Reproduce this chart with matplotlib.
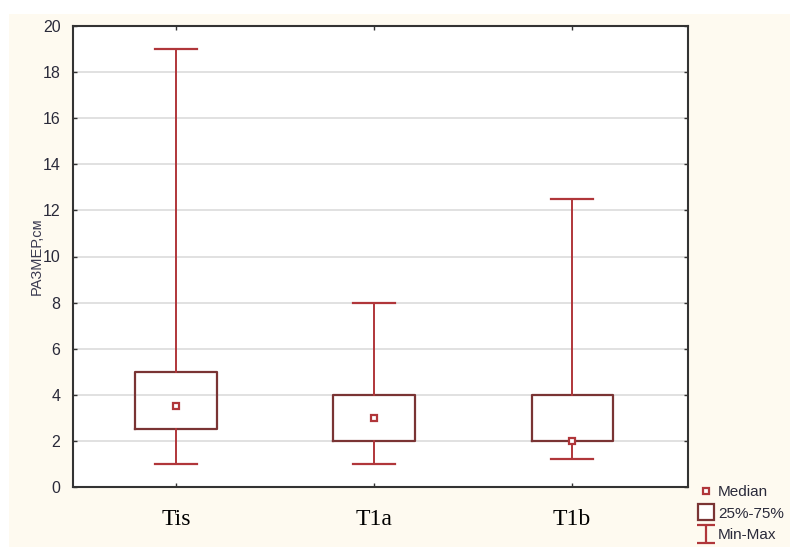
import matplotlib.pyplot as plt
import numpy as np
from matplotlib.path import Path
from matplotlib.patches import Rectangle
from matplotlib.lines import Line2D

# values (size, cm)
groups = ['Tis', 'T1a', 'T1b']
mins = [1.0, 1.0, 1.2]
q1 = [2.5, 2.0, 2.0]
medians = [3.5, 3.0, 2.0]
q3 = [5.0, 4.0, 4.0]
maxs = [19.0, 8.0, 12.5]
y_ticks = [0, 2, 4, 6, 8, 10, 12, 14, 16, 18, 20]

box_col = '#7a3434'
whisk_col = '#b0363a'
cream = '#fefaf0'

fig = plt.figure(figsize=(7.9, 5.47), dpi=100)
fig.patch.set_facecolor('white')
# cream panel behind everything (white strip at top/left as in the reference)
fig.patches.append(Rectangle((9 / 790, 0), 1, 1 - 14 / 547, transform=fig.transFigure,
                             facecolor=cream, edgecolor='none', zorder=-10))

ax = fig.add_axes([73 / 790, 60 / 547, 615 / 790, 461 / 547])
ax.set_facecolor('white')

pos = np.arange(len(groups))
stats = []
for g, lo, a, m, b, hi in zip(groups, mins, q1, medians, q3, maxs):
    stats.append({'label': g, 'whislo': lo, 'q1': a, 'med': m, 'q3': b, 'whishi': hi, 'fliers': []})

ax.bxp(stats, positions=pos, widths=0.41, capwidths=0.21, showfliers=False,
       boxprops=dict(color=box_col, linewidth=1.6),
       whiskerprops=dict(color=whisk_col, linewidth=1.4),
       capprops=dict(color=whisk_col, linewidth=1.6),
       medianprops=dict(linestyle='none'))
ax.plot(pos, medians, linestyle='none', marker='s', markersize=4.5,
        markerfacecolor='white', markeredgecolor=whisk_col, markeredgewidth=1.6, zorder=5)

ax.set_ylim(0, 20)
ax.set_xlim(-0.52, 2.585)
ax.set_yticks(y_ticks)
ax.set_xticks(pos)
ax.set_xticklabels(groups, fontfamily='Liberation Serif', fontsize=17, color='black')
for lab in ax.get_yticklabels():
    lab.set_fontfamily('Liberation Sans')
    lab.set_fontsize(11.5)
    lab.set_color('#2a2a3a')
ax.tick_params(axis='y', direction='in', length=3, width=1, color='#333333', pad=9,
               left=True, right=True)
ax.tick_params(axis='x', direction='in', length=3, width=1, color='#333333', pad=16,
               bottom=True, top=True)
ax.yaxis.grid(True, color='#dcdcdc', linewidth=1.2)
ax.set_axisbelow(True)
for sp in ax.spines.values():
    sp.set_color('#333333')
    sp.set_linewidth(1.5)

ax.set_ylabel('РАЗМЕР,см', fontfamily='Liberation Sans', fontsize=10.5, color='#3a3a50', labelpad=-1)

# legend symbols
imark = Path([(-0.5, 0.5), (0.5, 0.5), (0, 0.5), (0, -0.5), (-0.5, -0.5), (0.5, -0.5)],
             [Path.MOVETO, Path.LINETO, Path.MOVETO, Path.LINETO, Path.MOVETO, Path.LINETO])
handles = [
    Line2D([], [], linestyle='none', marker='s', markersize=4, markerfacecolor='white',
           markeredgecolor=whisk_col, markeredgewidth=1.6),
    Line2D([], [], linestyle='none', marker='s', markersize=11.5, markerfacecolor='white',
           markeredgecolor=box_col, markeredgewidth=1.6),
    Line2D([], [], linestyle='none', marker=imark, markersize=13, markerfacecolor='none',
           markeredgecolor=whisk_col, markeredgewidth=1.6),
]
leg = fig.legend(handles, ['Median', '25%-75%', 'Min-Max'], loc='upper left',
                 bbox_to_anchor=(698 / 790, 1 - 485 / 547), frameon=False,
                 handlelength=1.0, handletextpad=0.3, labelspacing=0.5,
                 borderpad=0, borderaxespad=0,
                 prop={'family': 'Liberation Sans', 'size': 11})
for t in leg.get_texts():
    t.set_color('#2a2a3a')

plt.savefig('out.png', dpi=100, facecolor=fig.get_facecolor())
